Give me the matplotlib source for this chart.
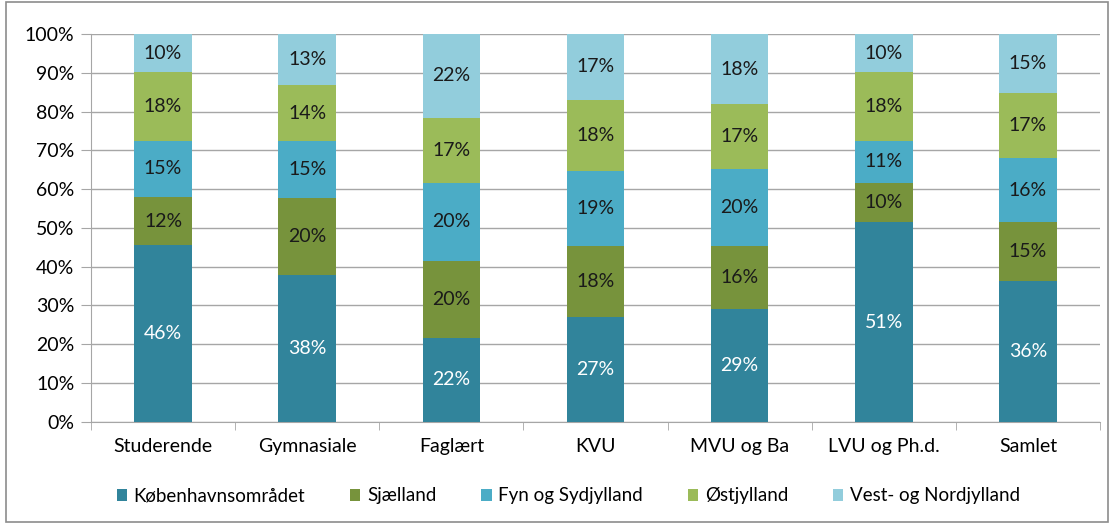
import matplotlib
matplotlib.use("Agg")
import matplotlib.pyplot as plt
from matplotlib.patches import Rectangle
import numpy as np

categories = ["Studerende", "Gymnasiale", "Faglært", "KVU", "MVU og Ba", "LVU og Ph.d.", "Samlet"]
series_names = ["Københavnsområdet", "Sjælland", "Fyn og Sydjylland", "Østjylland", "Vest- og Nordjylland"]
kbh = [45.6, 37.8, 21.6, 27.1, 29.1, 51.4, 36.3]
sjaelland = [12.3, 20.0, 19.9, 18.3, 16.3, 10.2, 15.2]
fyn = [14.6, 14.6, 20.1, 19.3, 19.9, 10.8, 16.4]
ost = [17.6, 14.4, 16.8, 18.3, 16.6, 17.7, 17.0]
vest = [9.9, 13.2, 21.6, 17.0, 18.1, 9.9, 15.1]
colors = ["#31849B", "#77933C", "#4BACC6", "#9BBB59", "#92CDDC"]
label_colors = ["white", "#1a1a1a", "#1a1a1a", "#1a1a1a", "#1a1a1a"]

series = [kbh, sjaelland, fyn, ost, vest]

plt.rcParams['font.family'] = ['Lato', 'DejaVu Sans']
FS = 14

fig = plt.figure(figsize=(11.1, 5.24), dpi=100)
W, H = 1110, 524
ax = fig.add_axes([91 / W, 1 - 421.7 / H, (1100 - 91) / W, (421.7 - 34) / H])

x = np.arange(len(categories))
bottom = np.zeros(len(categories))
handles = []
for vals, col, lc, name in zip(series, colors, label_colors, series_names):
    v = np.array(vals)
    b = ax.bar(x, v, bottom=bottom, width=0.40, color=col, label=name, zorder=3)
    handles.append(b)
    for xi, vi, bi in zip(x, v, bottom):
        ax.text(xi, bi + vi / 2, f"{vi:.0f}%", ha="center", va="center",
                color=lc, fontsize=FS, zorder=4)
    bottom += v

ax.set_xlim(-0.5, len(categories) - 0.5)
ax.set_ylim(0, 100)
ax.set_yticks(np.arange(0, 101, 10))
ax.set_yticklabels([f"{t}%" for t in range(0, 101, 10)], fontsize=FS)
ax.yaxis.grid(True, color="#A6A6A6", linewidth=1, zorder=0)
ax.tick_params(axis="y", length=7, color="#A6A6A6", pad=5)
ax.set_xticks(x)
ax.set_xticklabels(categories, fontsize=FS)
ax.tick_params(axis="x", length=0, pad=12)
ax.set_xticks(np.arange(-0.5, len(categories), 1), minor=True)
ax.tick_params(axis="x", which="minor", length=6, color="#A6A6A6")
for s in ["top", "right"]:
    ax.spines[s].set_visible(False)
for s in ["left", "bottom"]:
    ax.spines[s].set_color("#A6A6A6")
ax.set_axisbelow(True)

leg = fig.legend(handles=handles, labels=series_names, loc="center",
                 bbox_to_anchor=(0.512, 1 - 496 / H), ncol=5, frameon=False,
                 fontsize=13.5, handlelength=0.55, handleheight=0.55,
                 handletextpad=0.35, columnspacing=2.4)

fig.patches.append(Rectangle((6 / W, 2 / H), (W - 8) / W, (H - 4) / H, transform=fig.transFigure,
                             fill=False, edgecolor="#8C8C8C", linewidth=1.2))

fig.savefig("out.png", dpi=100)
